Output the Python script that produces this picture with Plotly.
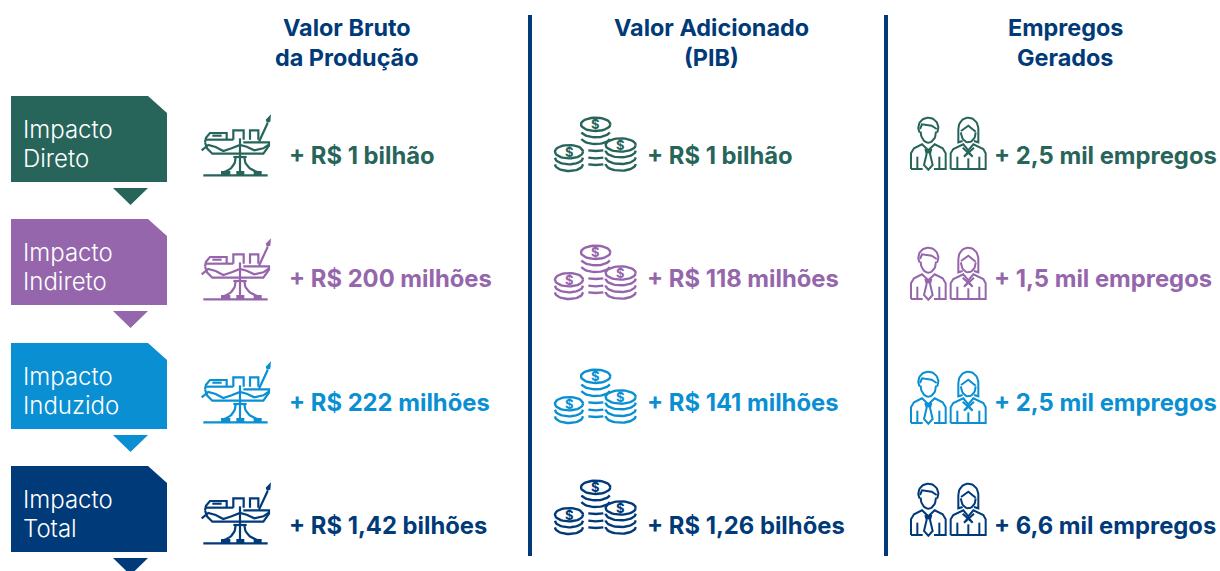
import math
import plotly.graph_objects as go

row_names = [["Impacto", "Direto"], ["Impacto", "Indireto"], ["Impacto", "Induzido"], ["Impacto", "Total"]]
row_colors = ["#27655B", "#9566AB", "#0A8FD3", "#003A78"]
col_titles = [["Valor Bruto", "da Produção"], ["Valor Adicionado", "(PIB)"], ["Empregos", "Gerados"]]
vbp_values = ["+ R$ 1 bilhão", "+ R$ 200 milhões", "+ R$ 222 milhões", "+ R$ 1,42 bilhões"]
pib_values = ["+ R$ 1 bilhão", "+ R$ 118 milhões", "+ R$ 141 milhões", "+ R$ 1,26 bilhões"]
job_values = ["+ 2,5 mil empregos", "+ 1,5 mil empregos", "+ 2,5 mil empregos", "+ 6,6 mil empregos"]

NAVY = "#003A78"
FONT = "Inter"
row_offsets = [0, 123, 247, 370]
ship_offsets = [0, 124, 247, 368]
coin_offsets = [0, 128, 252, 363]
people_offsets = [0, 130, 254, 366]
col_text_x = [287, 645, 992]
col_title_x = [347, 711, 1065]

fig = go.Figure()
ann = []


def add_text(x, y, s, color, size, weight=700, anchor="left"):
    ann.append(dict(x=x, y=y, text=s, showarrow=False, xanchor=anchor, yanchor="middle",
                    font=dict(family=FONT, size=size, color=color, weight=weight)))


def add_lines(paths, color, width=2.0):
    xs, ys = [], []
    for p in paths:
        xs += [q[0] for q in p] + [None]
        ys += [q[1] for q in p] + [None]
    fig.add_trace(go.Scatter(x=xs, y=ys, mode="lines", hoverinfo="skip",
                             line=dict(color=color, width=width, shape="linear")))


def add_fill(pts, color):
    fig.add_trace(go.Scatter(x=[p[0] for p in pts] + [pts[0][0]], y=[p[1] for p in pts] + [pts[0][1]],
                             mode="lines", fill="toself", fillcolor=color, hoverinfo="skip",
                             line=dict(color=color, width=0)))


def zoomed(ox, oy, dy, pts):
    return [(ox + x / 3, oy + dy + y / 3) for x, y in pts]


def arc(cx, cy, rx, ry, a0, a1, n=24):
    return [(cx + rx * math.cos(math.radians(a0 + (a1 - a0) * i / n)),
             cy + ry * math.sin(math.radians(a0 + (a1 - a0) * i / n))) for i in range(n + 1)]


def bez(p0, p1, p2, n=12):
    return [((1 - t) ** 2 * p0[0] + 2 * t * (1 - t) * p1[0] + t ** 2 * p2[0],
             (1 - t) ** 2 * p0[1] + 2 * t * (1 - t) * p1[1] + t ** 2 * p2[1])
            for t in [i / n for i in range(n + 1)]]


def ship(dy, color):
    paths = [
        [(30, 112), (33, 98), (45, 84), (95, 84), (95, 102)],
        [(30, 112), (36, 130), (52, 146), (205, 146), (222, 122), (222, 112), (145, 112)],
        [(30, 104), (115, 104)],
        [(52, 92), (80, 92)],
        [(20, 136), (40, 120), (62, 126), (85, 138), (110, 130), (135, 120), (155, 125), (178, 136), (205, 130), (220, 120)],
        [(115, 104), (115, 76), (146, 76), (146, 104)],
        [(165, 104), (165, 76), (190, 76), (190, 104)],
        [(192, 110), (218, 54)],
        [(135, 100), (135, 205)],
        [(25, 211), (218, 211)],
        bez((122, 156), (122, 190), (85, 202)),
        bez((148, 156), (148, 190), (190, 202)),
        [(115, 156), (155, 156)],
    ]
    add_lines([zoomed(195, 105, dy, p) for p in paths], color, 2.2)
    for x0, x1 in [(78, 106), (124, 148), (176, 200)]:
        add_fill(zoomed(195, 105, dy, [(x0, 198), (x1, 198), (x1, 212), (x0, 212)]), color)
    add_fill(zoomed(195, 105, dy, [(212, 44), (228, 28), (226, 50), (216, 54)]), color)


def coins(dy, color):
    heads = [(152, 58, 44, 20), (72, 140, 42, 20), (227, 120, 45, 20)]
    paths = []
    for cx, cy, rx, ry in heads:
        paths.append(arc(cx, cy, rx, ry, 0, 360, 40))
    for off in [18, 38]:
        paths.append(arc(72, 140 + off, 42, 20, 0, 180))
    for off in [17, 37, 57]:
        paths.append(arc(227, 120 + off, 45, 20, 0, 180))
    for off in [19, 39]:
        paths.append(arc(152, 58 + off, 44, 20, 15, 165))
    for y in [138, 160, 180]:
        paths.append([(130, y - 2), (152, y), (175, y - 2)])
    add_lines([zoomed(545, 105, dy, p) for p in paths], color, 2.4)
    for cx, cy, _, _ in heads:
        x, y = zoomed(545, 105, dy, [(cx, cy)])[0]
        add_text(x, y, "$", color, 13, 700, "center")


def people(dy, color):
    man = [
        arc(85, 68, 30, 30, 150, 390, 40),
        [(60, 72), (66, 58), (95, 62), (110, 72)],
        arc(85, 80, 23, 33, 0, 180, 20),
        [(33, 192), (33, 145), (42, 130), (66, 118), (85, 136), (104, 118), (128, 130), (137, 145), (137, 192), (102, 192)],
        [(33, 192), (68, 192)],
        [(52, 155), (52, 192)], [(118, 155), (118, 192)],
        [(76, 132), (85, 142), (94, 132), (90, 146), (98, 180), (85, 194), (72, 180), (80, 146), (76, 132)],
    ]
    woman = [
        arc(205, 72, 30, 34, 180, 360, 24) + [(235, 112), (222, 108)],
        [(175, 72), (175, 112), (188, 108)],
        arc(205, 82, 22, 30, 0, 180, 20),
        [(183, 78), (205, 62), (227, 80)],
        [(152, 192), (152, 145), (160, 132), (190, 118), (205, 136), (220, 118), (250, 132), (257, 145), (257, 192), (152, 192)],
        [(172, 155), (172, 192)], [(238, 155), (238, 192)], [(205, 160), (205, 192)],
        [(188, 128), (218, 155), (205, 140), (192, 155), (222, 128)],
    ]
    add_lines([zoomed(900, 105, dy, p) for p in man + woman], color, 2.0)


for i, dy in enumerate(row_offsets):
    c = row_colors[i]
    add_fill([(11, 96 + dy), (148, 96 + dy), (167, 113 + dy), (167, 182 + dy), (11, 182 + dy)], c)
    add_fill([(113, 188 + dy), (148, 188 + dy), (130.5, 205 + dy)], c)
    add_text(21, 129 + dy, row_names[i][0], "#FFFFFF", 24, 300)
    add_text(21, 158 + dy, row_names[i][1], "#FFFFFF", 24, 300)
    ship(ship_offsets[i], c)
    coins(coin_offsets[i], c)
    people(people_offsets[i], c)
    for x, vals in zip(col_text_x, [vbp_values, pib_values, job_values]):
        add_text(x, 155 + dy, vals[i], c, 23.8, 700)

for x, t in zip(col_title_x, col_titles):
    add_text(x, 27, t[0], NAVY, 23.4, 700, "center")
    add_text(x, 57, t[1], NAVY, 23.4, 700, "center")

add_lines([[(530, 15), (530, 556)], [(886, 15), (886, 556)]], NAVY, 4)

fig.update_layout(
    width=1220, height=571, margin=dict(l=0, r=0, t=0, b=0),
    paper_bgcolor="white", plot_bgcolor="white", showlegend=False, annotations=ann,
    xaxis=dict(range=[0, 1220], visible=False, fixedrange=True),
    yaxis=dict(range=[571, 0], visible=False, fixedrange=True),
)
fig.write_html("out.html", config={"displayModeBar": False},
               post_script="document.body.style.margin='0';document.body.style.overflow='hidden';")
